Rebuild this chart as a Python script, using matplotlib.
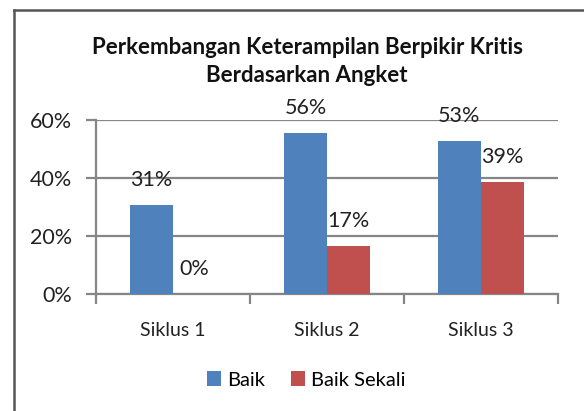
import matplotlib.pyplot as plt
from matplotlib.lines import Line2D
import numpy as np

# data
kategori = ['Siklus 1', 'Siklus 2', 'Siklus 3']
baik = [30.6, 55.6, 52.6]
baik_sekali = [0.0, 16.7, 38.7]
seri = ['Baik', 'Baik Sekali']
y_ticks = [0, 20, 40, 60]

biru = '#4F81BD'
merah = '#C0504D'
abu = '#868686'

plt.rcParams['font.family'] = ['Lato', 'DejaVu Sans']

W, H = 584, 411
fig = plt.figure(figsize=(W / 100, H / 100), dpi=100)
fig.patch.set_facecolor('white')

# obszar wykresu (w pikselach obrazu)
x0, x1 = 96, 558
y_top, y_bot = 120, 294
ax = fig.add_axes([x0 / W, (H - y_bot) / H, (x1 - x0) / W, (y_bot - y_top) / H])

x = np.arange(len(kategori))
w = 0.28
b1 = ax.bar(x - w / 2, baik, w, color=biru, label=seri[0], zorder=3)
b2 = ax.bar(x + w / 2, baik_sekali, w, color=merah, label=seri[1], zorder=3)

for bars, vals in ((b1, baik), (b2, baik_sekali)):
    for r, v in zip(bars, vals):
        ax.annotate(f'{round(v)}%', (r.get_x() + r.get_width() / 2, v),
                    xytext=(0, 18), textcoords='offset points',
                    ha='center', va='center', fontsize=15.5, color='#222222',
                    zorder=5)

ax.set_xlim(-0.5, 2.5)
ax.set_ylim(0, 60)
ax.set_yticks(y_ticks)
ax.set_yticklabels([f'{t}%' for t in y_ticks], fontsize=15.5, color='#222222')
ax.yaxis.grid(True, color=abu, linewidth=1.6, zorder=0)
ax.set_xticks(x)
ax.set_xticklabels(kategori, fontsize=14, color='#222222')
ax.set_xticks([-0.5, 0.5, 1.5, 2.5], minor=True)
ax.tick_params(axis='x', which='major', length=0, pad=20)
ax.tick_params(axis='x', which='minor', length=7, width=1.6, color=abu)
ax.tick_params(axis='y', length=7, width=1.6, color=abu, pad=10)
for s in ['top', 'right']:
    ax.spines[s].set_visible(False)
for s in ['left', 'bottom']:
    ax.spines[s].set_color(abu)
    ax.spines[s].set_linewidth(1.6)

fig.text(307 / W, (H - 48) / H, 'Perkembangan Keterampilan Berpikir Kritis',
         ha='center', va='center', fontsize=16, fontweight='bold', color='#111111')
fig.text(307 / W, (H - 75) / H, 'Berdasarkan Angket',
         ha='center', va='center', fontsize=16, fontweight='bold', color='#111111')

fig.legend(loc='center', bbox_to_anchor=(306 / W, (H - 380) / H), ncol=2,
           frameon=False, fontsize=14.5, handlelength=0.7, handleheight=0.7,
           handletextpad=0.3, columnspacing=1.3)

# ramka
fig.add_artist(Line2D([14 / W, 14 / W], [0, (H - 10) / H], color='#555555', linewidth=1.8))
fig.add_artist(Line2D([14 / W, 1], [(H - 10) / H, (H - 10) / H], color='#555555', linewidth=1.8))

plt.savefig('out.png', dpi=100)
